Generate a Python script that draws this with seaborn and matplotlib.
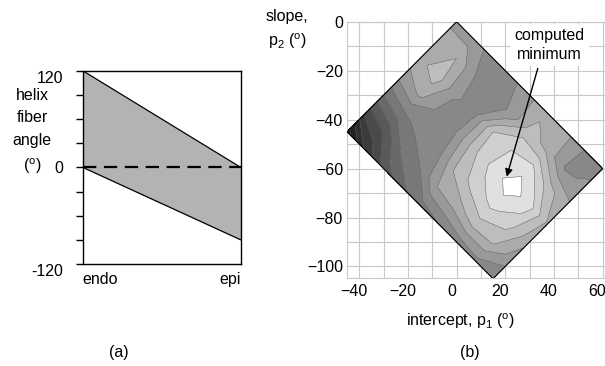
import numpy as np
import pandas as pd
import matplotlib
matplotlib.use("Agg")
import matplotlib.pyplot as plt
import seaborn as sns
from matplotlib.transforms import ScaledTranslation

# ---------------- data: panel (a) ----------------
depth_labels = ["endo", "epi"]
depth_pos = [0, 1]
upper_angle = [120, 0]
lower_angle = [0, -90]
a_yticks = [120, 90, 60, 30, 0, -30, -60, -90, -120]
a_yticklabels = ["120", "", "", "", "0", "", "", "", "-120"]

# ---------------- data: panel (b) ----------------
endo_angle = [0, 15, 30, 45, 60, 75, 90, 105, 120]
epi_angle = [0, -15, -30, -45, -60, -75, -90]
cost_epi_0 = [5.3, 5.6, 6.4, 6.4, 5.2, 4.4, 4.6, 6.0, 6.3]
cost_epi_15 = [4.4, 4.0, 6.0, 6.6, 5.8, 3.5, 4.3, 6.2, 5.8]
cost_epi_30 = [4.3, 3.5, 5.9, 6.3, 3.0, 2.0, 1.4, 3.5, 4.8]
cost_epi_45 = [5.6, 4.8, 6.3, 6.0, 3.2, 1.6, 0.45, 1.5, 4.2]
cost_epi_60 = [8.0, 7.3, 6.7, 6.5, 3.8, 2.5, 1.7, 2.6, 4.7]
cost_epi_75 = [10.8, 9.9, 7.8, 7.0, 4.9, 4.5, 3.5, 3.8, 5.6]
cost_epi_90 = [14.6, 11.8, 9.6, 8.2, 7.4, 7.0, 6.6, 6.3, 6.8]
contour_levels = list(range(16))
b_xticks = [-40, -20, 0, 20, 40, 60]
b_yticks = [0, -20, -40, -60, -80, -100]

# ---------------- style ----------------
sns.set_theme(style="white")
plt.rcParams["font.family"] = ["Liberation Sans", "DejaVu Sans"]
plt.rcParams["mathtext.fontset"] = "custom"
plt.rcParams["mathtext.rm"] = "Liberation Sans"
plt.rcParams["mathtext.it"] = "Liberation Sans:italic"
for k in ["text.color", "axes.labelcolor", "xtick.color", "ytick.color"]:
    plt.rcParams[k] = "black"
FS = 11.5
W, H = 605, 366

fig = plt.figure(figsize=(W / 100, H / 100), dpi=100)
fig.patch.set_facecolor("white")

def frac(x0, y0, x1, y1):
    return [x0 / W, 1 - y1 / H, (x1 - x0) / W, (y1 - y0) / H]

# ---------------- panel (a) ----------------
axa = fig.add_axes(frac(82.7, 70.7, 240.7, 264.0))
axa.fill_between(depth_pos, lower_angle, upper_angle, color="#b3b3b3", lw=0, zorder=1)
dfa = pd.DataFrame({
    "depth": depth_pos * 2,
    "angle": upper_angle + lower_angle,
    "bound": ["upper"] * 2 + ["lower"] * 2,
})
sns.lineplot(data=dfa, x="depth", y="angle", units="bound", estimator=None,
             color="black", lw=0.9, ax=axa, legend=False, zorder=2)
axa.axhline(0, color="black", lw=1.6, ls=(0, (6.0, 3.4)), zorder=3)
axa.set_xlim(0, 1)
axa.set_ylim(-120, 120)
axa.set_yticks(a_yticks)
axa.set_yticklabels(a_yticklabels)
axa.set_xticks(depth_pos)
axa.set_xticklabels(depth_labels)
axa.set_xlabel("")
axa.set_ylabel("")
for s in axa.spines.values():
    s.set_color("black")
    s.set_linewidth(1.0)
axa.tick_params(axis="y", direction="out", length=5, width=1.0, color="black",
                pad=9, labelsize=FS, left=True)
axa.tick_params(axis="x", length=0, pad=6, labelsize=FS)
xl = axa.get_xticklabels()
xl[0].set_ha("left")
xl[1].set_ha("right")
down = ScaledTranslation(0, -6 / 100, fig.dpi_scale_trans)
yl = axa.get_yticklabels()
for i in (0, len(yl) - 1):
    yl[i].set_transform(yl[i].get_transform() + down)
fig.text(32 / W, 1 - 132 / H, "helix\nfiber\nangle\n($^\\mathrm{o}$)",
         ha="center", va="center", fontsize=FS, linespacing=1.62)
fig.text(119 / W, 1 - 353 / H, "(a)", ha="center", va="center", fontsize=FS)

# ---------------- panel (b) ----------------
axb = fig.add_axes(frac(347.1, 21.7, 605.0, 277.5))
Z = np.array([cost_epi_0, cost_epi_15, cost_epi_30, cost_epi_45,
              cost_epi_60, cost_epi_75, cost_epi_90])
E, F = np.meshgrid(endo_angle, epi_angle)
P1 = (E + F) / 2.0   # intercept
P2 = (F - E) / 2.0   # slope

grays = [1.0, 0.88, 0.81, 0.74, 0.67, 0.60, 0.535, 0.47, 0.41, 0.35,
         0.29, 0.23, 0.18, 0.13, 0.08]
band_colors = [(g, g, g) for g in grays]
axb.contourf(P1, P2, Z, levels=contour_levels, colors=band_colors, zorder=2)
axb.contour(P1, P2, Z, levels=contour_levels, colors="#6a6a6a", linewidths=0.35, zorder=3)

edge_x = np.concatenate([P1[0, :], P1[:, -1], P1[-1, ::-1], P1[::-1, 0]])
edge_y = np.concatenate([P2[0, :], P2[:, -1], P2[-1, ::-1], P2[::-1, 0]])
axb.plot(edge_x, edge_y, color="black", lw=0.8, zorder=4)

axb.set_xlim(-45, 61)
axb.set_ylim(-104.5, 0)
axb.set_xticks(b_xticks)
axb.set_yticks(b_yticks)
axb.set_xticks(np.arange(-40, 61, 10), minor=True)
axb.set_yticks(np.arange(-100, 1, 10), minor=True)
axb.grid(which="both", color="#c8c8c8", lw=0.8)
axb.set_axisbelow(True)
for name, s in axb.spines.items():
    s.set_color("#c8c8c8")
    s.set_linewidth(0.8)
axb.spines["right"].set_visible(False)
axb.tick_params(which="both", length=0, labelsize=FS)
axb.tick_params(axis="y", pad=3)
axb.tick_params(axis="x", pad=5)
shift = ScaledTranslation(-5 / 100, 0, fig.dpi_scale_trans)
for lab in axb.get_xticklabels():
    lab.set_transform(lab.get_transform() + shift)

axb.annotate("computed\nminimum", xy=(20.6, -63.3), xytext=(38.2, -9.5),
             ha="center", va="center", fontsize=FS, linespacing=1.3, zorder=6,
             bbox=dict(boxstyle="square,pad=0.25", fc="white", ec="none"),
             arrowprops=dict(arrowstyle="-|>", color="black", lw=1.0,
                             relpos=(0.36, 0.0), shrinkA=2, shrinkB=0,
                             mutation_scale=11))

fig.text(266 / W, 1 - 16 / H, "slope,", ha="left", va="center", fontsize=FS)
fig.text(268 / W, 1 - 41 / H, "p$_2$ ($^\\mathrm{o}$)", ha="left", va="center", fontsize=FS)
fig.text(460 / W, 1 - 321 / H, "intercept, p$_1$ ($^\\mathrm{o}$)", ha="center",
         va="center", fontsize=FS)
fig.text(470 / W, 1 - 353 / H, "(b)", ha="center", va="center", fontsize=FS)

fig.savefig("out.png", dpi=100, facecolor="white")
